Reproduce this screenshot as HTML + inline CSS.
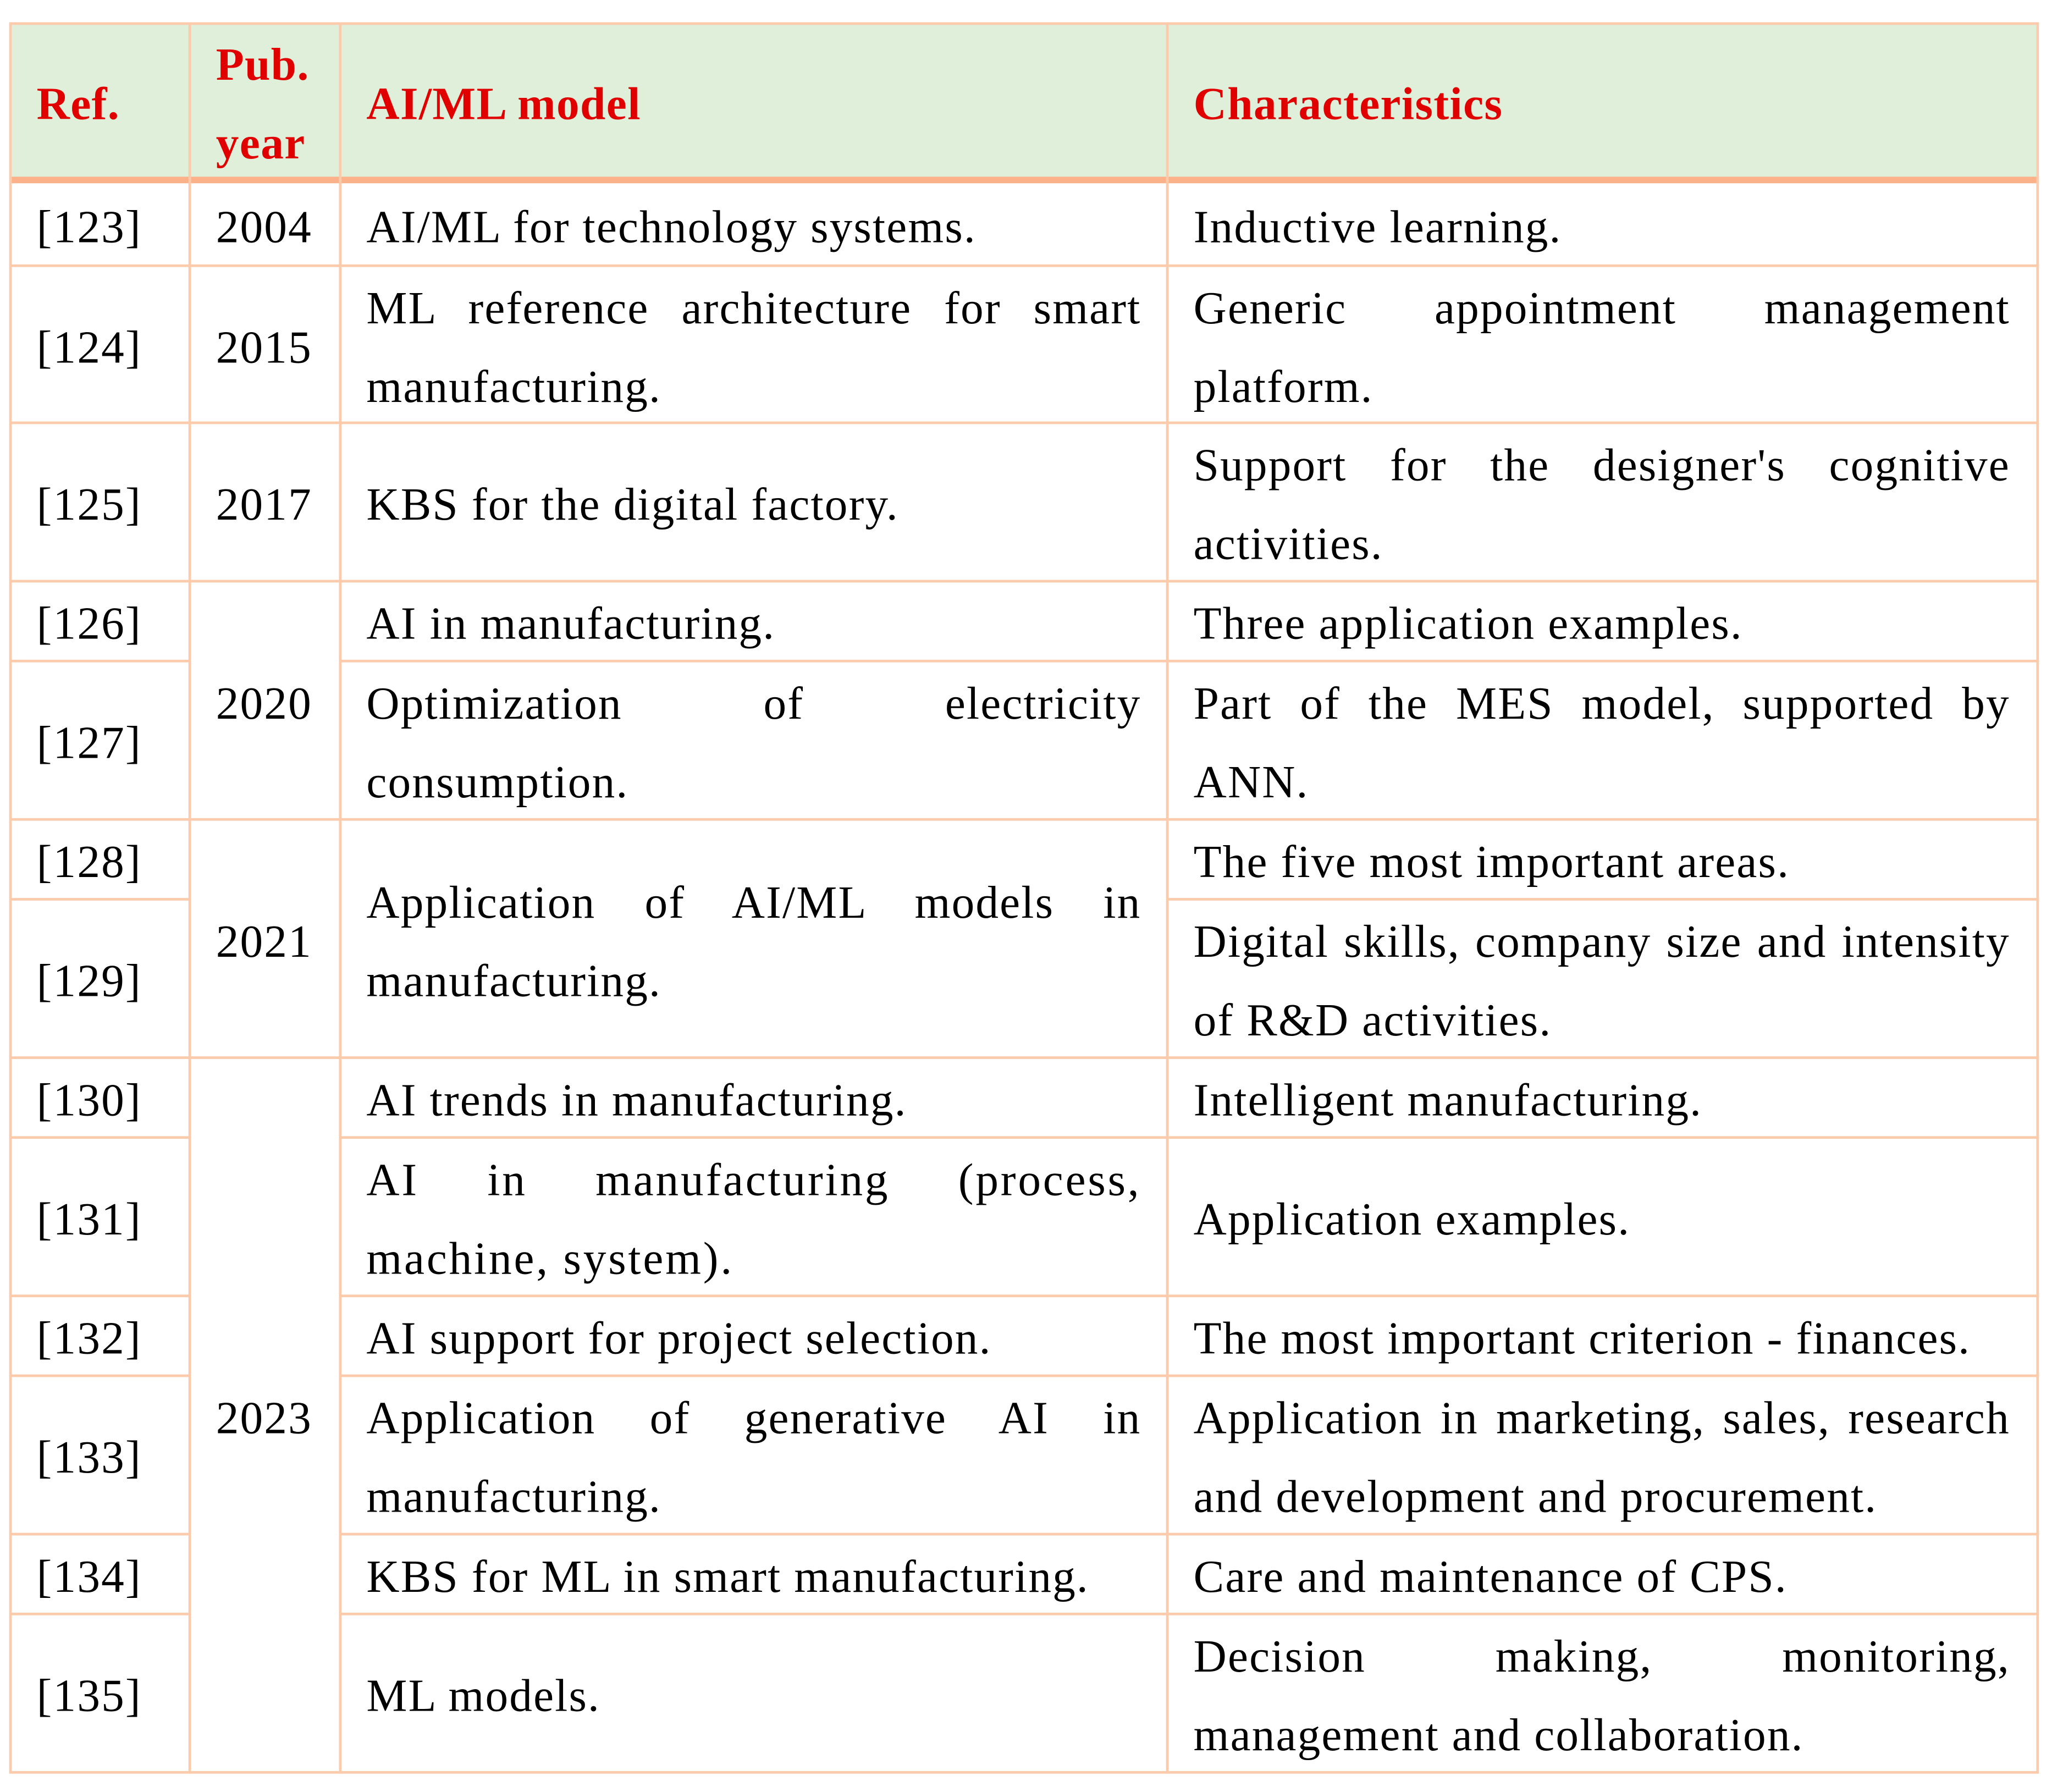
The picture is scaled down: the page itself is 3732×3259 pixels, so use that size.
<!DOCTYPE html>
<html><head><meta charset="utf-8"><style>
html,body{margin:0;padding:0;background:#fff;}
body{width:3732px;height:3259px;overflow:hidden;position:relative;}
#wrap{position:absolute;left:0;top:0;width:1568px;height:1369px;transform-origin:0 0;transform:scale(2.38010,2.38058);}
.c{position:absolute;box-sizing:border-box;display:flex;align-items:center;padding:5px 20px 0 20px;font-family:"Liberation Serif",serif;font-size:35px;line-height:60px;color:#000;letter-spacing:0.9px;}
.c>div{width:100%;text-align:justify;text-align-last:left;}
.h{background:#dfefd9;color:#e00000;font-weight:bold;letter-spacing:0.6px;}
.hl{position:absolute;background:#fbcbac;height:2px;}
.vl{position:absolute;background:#fbcbac;width:2px;}
</style></head><body>
<div id="wrap">
<div class="c h" style="left:8px;top:18px;width:137px;height:119px;"><div>Ref.</div></div>
<div class="c h" style="left:145px;top:18px;width:115px;height:119px;"><div>Pub.<br>year</div></div>
<div class="c h" style="left:260px;top:18px;width:632px;height:119px;"><div>AI/ML model</div></div>
<div class="c h" style="left:892px;top:18px;width:664px;height:119px;"><div>Characteristics</div></div>

<div class="c" style="left:8px;top:140px;width:137px;height:63px;"><div>[123]</div></div>
<div class="c" style="left:8px;top:203px;width:137px;height:120px;"><div>[124]</div></div>
<div class="c" style="left:8px;top:323px;width:137px;height:121px;"><div>[125]</div></div>
<div class="c" style="left:8px;top:444px;width:137px;height:61px;"><div>[126]</div></div>
<div class="c" style="left:8px;top:505px;width:137px;height:121px;"><div>[127]</div></div>
<div class="c" style="left:8px;top:626px;width:137px;height:61px;"><div>[128]</div></div>
<div class="c" style="left:8px;top:687px;width:137px;height:121px;"><div>[129]</div></div>
<div class="c" style="left:8px;top:808px;width:137px;height:61px;"><div>[130]</div></div>
<div class="c" style="left:8px;top:869px;width:137px;height:121px;"><div>[131]</div></div>
<div class="c" style="left:8px;top:990px;width:137px;height:61px;"><div>[132]</div></div>
<div class="c" style="left:8px;top:1051px;width:137px;height:121px;"><div>[133]</div></div>
<div class="c" style="left:8px;top:1172px;width:137px;height:61px;"><div>[134]</div></div>
<div class="c" style="left:8px;top:1233px;width:137px;height:121px;"><div>[135]</div></div>

<div class="c" style="left:145px;top:140px;width:115px;height:63px;"><div>2004</div></div>
<div class="c" style="left:145px;top:203px;width:115px;height:120px;"><div>2015</div></div>
<div class="c" style="left:145px;top:323px;width:115px;height:121px;"><div>2017</div></div>
<div class="c" style="left:145px;top:444px;width:115px;height:182px;"><div>2020</div></div>
<div class="c" style="left:145px;top:626px;width:115px;height:182px;"><div>2021</div></div>
<div class="c" style="left:145px;top:808px;width:115px;height:546px;"><div>2023</div></div>

<div class="c" style="left:260px;top:140px;width:632px;height:63px;"><div>AI/ML for technology systems.</div></div>
<div class="c" style="left:260px;top:203px;width:632px;height:120px;"><div>ML reference architecture for smart manufacturing.</div></div>
<div class="c" style="left:260px;top:323px;width:632px;height:121px;"><div>KBS for the digital factory.</div></div>
<div class="c" style="left:260px;top:444px;width:632px;height:61px;"><div>AI in manufacturing.</div></div>
<div class="c" style="left:260px;top:505px;width:632px;height:121px;"><div>Optimization of electricity consumption.</div></div>
<div class="c" style="left:260px;top:626px;width:632px;height:182px;"><div>Application of AI/ML models in manufacturing.</div></div>
<div class="c" style="left:260px;top:808px;width:632px;height:61px;"><div>AI trends in manufacturing.</div></div>
<div class="c" style="left:260px;top:869px;width:632px;height:121px;letter-spacing:1.6px;"><div>AI in manufacturing (process, machine, system).</div></div>
<div class="c" style="left:260px;top:990px;width:632px;height:61px;"><div>AI support for project selection.</div></div>
<div class="c" style="left:260px;top:1051px;width:632px;height:121px;"><div>Application of generative AI in manufacturing.</div></div>
<div class="c" style="left:260px;top:1172px;width:632px;height:61px;"><div>KBS for ML in smart manufacturing.</div></div>
<div class="c" style="left:260px;top:1233px;width:632px;height:121px;"><div>ML models.</div></div>

<div class="c" style="left:892px;top:140px;width:664px;height:63px;"><div>Inductive learning.</div></div>
<div class="c" style="left:892px;top:203px;width:664px;height:120px;"><div>Generic appointment management platform.</div></div>
<div class="c" style="left:892px;top:323px;width:664px;height:121px;"><div>Support for the designer's cognitive activities.</div></div>
<div class="c" style="left:892px;top:444px;width:664px;height:61px;"><div>Three application examples.</div></div>
<div class="c" style="left:892px;top:505px;width:664px;height:121px;"><div>Part of the MES model, supported by ANN.</div></div>
<div class="c" style="left:892px;top:626px;width:664px;height:61px;"><div>The five most important areas.</div></div>
<div class="c" style="left:892px;top:687px;width:664px;height:121px;"><div>Digital skills, company size and intensity of R&amp;D activities.</div></div>
<div class="c" style="left:892px;top:808px;width:664px;height:61px;"><div>Intelligent manufacturing.</div></div>
<div class="c" style="left:892px;top:869px;width:664px;height:121px;"><div>Application examples.</div></div>
<div class="c" style="left:892px;top:990px;width:664px;height:61px;"><div>The most important criterion - finances.</div></div>
<div class="c" style="left:892px;top:1051px;width:664px;height:121px;"><div>Application in marketing, sales, research and development and procurement.</div></div>
<div class="c" style="left:892px;top:1172px;width:664px;height:61px;"><div>Care and maintenance of CPS.</div></div>
<div class="c" style="left:892px;top:1233px;width:664px;height:121px;"><div>Decision making, monitoring, management and collaboration.</div></div>

<div class="hl" style="left:8px;top:17px;width:1550px;"></div>
<div class="hl" style="left:8px;top:135px;width:1550px;height:5px;background:#fcb188;"></div>
<div class="hl" style="left:8px;top:202px;width:1550px;"></div>
<div class="hl" style="left:8px;top:322px;width:1550px;"></div>
<div class="hl" style="left:8px;top:443px;width:1550px;"></div>
<div class="hl" style="left:8px;top:504px;width:137px;"></div>
<div class="hl" style="left:260px;top:504px;width:1298px;"></div>
<div class="hl" style="left:8px;top:625px;width:1550px;"></div>
<div class="hl" style="left:8px;top:686px;width:137px;"></div>
<div class="hl" style="left:892px;top:686px;width:666px;"></div>
<div class="hl" style="left:8px;top:807px;width:1550px;"></div>
<div class="hl" style="left:8px;top:868px;width:137px;"></div>
<div class="hl" style="left:260px;top:868px;width:1298px;"></div>
<div class="hl" style="left:8px;top:989px;width:137px;"></div>
<div class="hl" style="left:260px;top:989px;width:1298px;"></div>
<div class="hl" style="left:8px;top:1050px;width:137px;"></div>
<div class="hl" style="left:260px;top:1050px;width:1298px;"></div>
<div class="hl" style="left:8px;top:1171px;width:137px;"></div>
<div class="hl" style="left:260px;top:1171px;width:1298px;"></div>
<div class="hl" style="left:8px;top:1232px;width:137px;"></div>
<div class="hl" style="left:260px;top:1232px;width:1298px;"></div>
<div class="hl" style="left:8px;top:1353px;width:1550px;"></div>
<div class="vl" style="left:7px;top:17px;height:1338px;"></div>
<div class="vl" style="left:144px;top:17px;height:1338px;"></div>
<div class="vl" style="left:259px;top:17px;height:1338px;"></div>
<div class="vl" style="left:891px;top:17px;height:1338px;"></div>
<div class="vl" style="left:1556px;top:17px;height:1338px;"></div>
</div>
</body></html>
